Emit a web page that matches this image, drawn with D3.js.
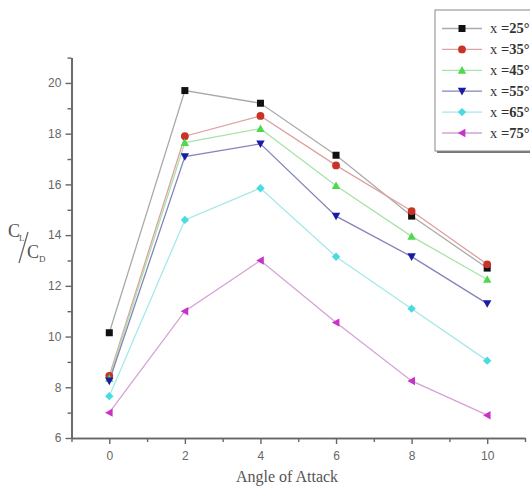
<!DOCTYPE html>
<html><head><meta charset="utf-8">
<script src="https://cdn.jsdelivr.net/npm/d3@7"></script>
<style>html,body{margin:0;padding:0;background:#fff;overflow:hidden}</style>
</head><body>
<svg id="chart" width="530" height="491"></svg>
<script>
// ---- data ----
const angles = [0, 2, 4, 6, 8, 10];
const x25 = [10.15, 19.7, 19.2, 17.15, 14.75, 12.7];
const x35 = [8.45, 17.9, 18.7, 16.75, 14.95, 12.85];
const x45 = [8.35, 17.65, 18.2, 15.95, 13.95, 12.25];
const x55 = [8.25, 17.1, 17.6, 14.75, 13.15, 11.3];
const x65 = [7.65, 14.6, 15.85, 13.15, 11.1, 9.05];
const x75 = [7.0, 11.0, 13.0, 10.55, 8.25, 6.9];
const seriesNames = ["25", "35", "45", "55", "65", "75"];
const xTicks = [0, 2, 4, 6, 8, 10];
const xMinor = [-1, 1, 3, 5, 7, 9, 11];
const yTicks = [6, 8, 10, 12, 14, 16, 18, 20];
const yMinor = [7, 9, 11, 13, 15, 17, 19, 21];

const seriesValues = [x25, x35, x45, x55, x65, x75];
const markerColors = ["#111111", "#c83228", "#4cd94c", "#1a1aa8", "#4dd9e0", "#c832c8"];
const lineColors = ["#aaaaaa", "#dfa0a0", "#a8e4a8", "#8484bc", "#a6e8ea", "#d6a2d6"];
const symbols = ["square", "circle", "triUp", "triDown", "diamond", "triLeft"];

const svg = d3.select("#chart");
const x = d3.scaleLinear().domain([-1, 11]).range([71.5, 525]);
const y = d3.scaleLinear().domain([6, 21]).range([438, 57.6]);
const axisColor = "#666";

function drawSymbol(g, type, cx, cy, color) {
  let path;
  const s = 4.2;
  if (type === "square") {
    g.append("rect").attr("x", cx - 3.5).attr("y", cy - 3.5).attr("width", 7).attr("height", 7).attr("fill", color);
    return;
  } else if (type === "circle") {
    g.append("circle").attr("cx", cx).attr("cy", cy).attr("r", 3.9).attr("fill", color);
    return;
  } else if (type === "triUp") {
    path = `M${cx},${cy - s} L${cx + s},${cy + s * 0.8} L${cx - s},${cy + s * 0.8}Z`;
  } else if (type === "triDown") {
    path = `M${cx},${cy + s} L${cx + s},${cy - s * 0.8} L${cx - s},${cy - s * 0.8}Z`;
  } else if (type === "diamond") {
    path = `M${cx},${cy - s} L${cx + s},${cy} L${cx},${cy + s} L${cx - s},${cy}Z`;
  } else if (type === "triLeft") {
    path = `M${cx - s},${cy} L${cx + s * 0.8},${cy - s} L${cx + s * 0.8},${cy + s}Z`;
  }
  g.append("path").attr("d", path).attr("fill", color);
}

// ---- axes ----
const gx = svg.append("g").attr("transform", `translate(0,${y(6)})`)
  .call(d3.axisBottom(x).tickValues(xTicks).tickSize(6).tickSizeOuter(0).tickFormat(d3.format("d")));
const gxm = svg.append("g").attr("transform", `translate(0,${y(6)})`)
  .call(d3.axisBottom(x).tickValues(xMinor).tickSize(4).tickSizeOuter(0).tickFormat(""));
const gy = svg.append("g").attr("transform", `translate(${x(-1)},0)`)
  .call(d3.axisLeft(y).tickValues(yTicks).tickSize(6).tickSizeOuter(0).tickFormat(d3.format("d")));
const gym = svg.append("g").attr("transform", `translate(${x(-1)},0)`)
  .call(d3.axisLeft(y).tickValues(yMinor).tickSize(4).tickSizeOuter(0).tickFormat(""));
[gx, gxm, gy, gym].forEach(g => {
  g.selectAll("path.domain").attr("stroke", axisColor).attr("stroke-width", 1.6);
  g.selectAll(".tick line").attr("stroke", axisColor).attr("stroke-width", 1.4);
  g.selectAll(".tick text").attr("fill", "#666").attr("font-family", "Liberation Sans, Arial, sans-serif").attr("font-size", 12);
});
gx.selectAll(".tick text").attr("dy", "1.05em");
gy.selectAll(".tick text").attr("dx", "-0.1em");

// axis titles
svg.append("text").attr("x", 287).attr("y", 482).attr("text-anchor", "middle")
  .attr("font-family", "Liberation Serif, Times New Roman, serif").attr("font-size", 16)
  .attr("fill", "#555").text("Angle of Attack");

const yl = svg.append("g").attr("fill", "#555").attr("font-family", "Liberation Serif, Times New Roman, serif");
yl.append("text").attr("x", 8).attr("y", 237).attr("font-size", 18).text("C");
yl.append("text").attr("x", 19).attr("y", 241).attr("font-size", 9).text("L");
yl.append("line").attr("x1", 28).attr("y1", 232).attr("x2", 19).attr("y2", 263)
  .attr("stroke", "#666").attr("stroke-width", 1.3);
yl.append("text").attr("x", 27).attr("y", 258).attr("font-size", 18).text("C");
yl.append("text").attr("x", 39).attr("y", 262).attr("font-size", 9).text("D");

// ---- series ----
const line = d3.line().x((d, i) => x(angles[i])).y(d => y(d));
seriesValues.forEach((vals, k) => {
  svg.append("path").datum(vals).attr("d", line).attr("fill", "none")
    .attr("stroke", lineColors[k]).attr("stroke-width", 1.3);
});
seriesValues.forEach((vals, k) => {
  const g = svg.append("g");
  vals.forEach((v, i) => drawSymbol(g, symbols[k], x(angles[i]), y(v), markerColors[k]));
});

// ---- legend ----
const lg = svg.append("g");
lg.append("rect").attr("x", 437).attr("y", 12).attr("width", 120).attr("height", 141).attr("fill", "#777");
lg.append("rect").attr("x", 435).attr("y", 10).attr("width", 120).attr("height", 141)
  .attr("fill", "#fff").attr("stroke", "#888").attr("stroke-width", 1);
const rowY0 = 28.5, rowStep = 20.9;
seriesNames.forEach((name, k) => {
  const ry = rowY0 + k * rowStep;
  lg.append("line").attr("x1", 442).attr("x2", 482).attr("y1", ry).attr("y2", ry)
    .attr("stroke", lineColors[k]).attr("stroke-width", 1.3);
  drawSymbol(lg, symbols[k], 462, ry, markerColors[k]);
  const t = lg.append("text").attr("x", 490).attr("y", ry + 4.5)
    .attr("font-family", "Liberation Serif, Times New Roman, serif").attr("font-size", 14.5).attr("fill", "#333");
  t.append("tspan").text("x ");
  t.append("tspan").attr("font-weight", "bold").text("=" + name + "°");
});
</script>
</body></html>
